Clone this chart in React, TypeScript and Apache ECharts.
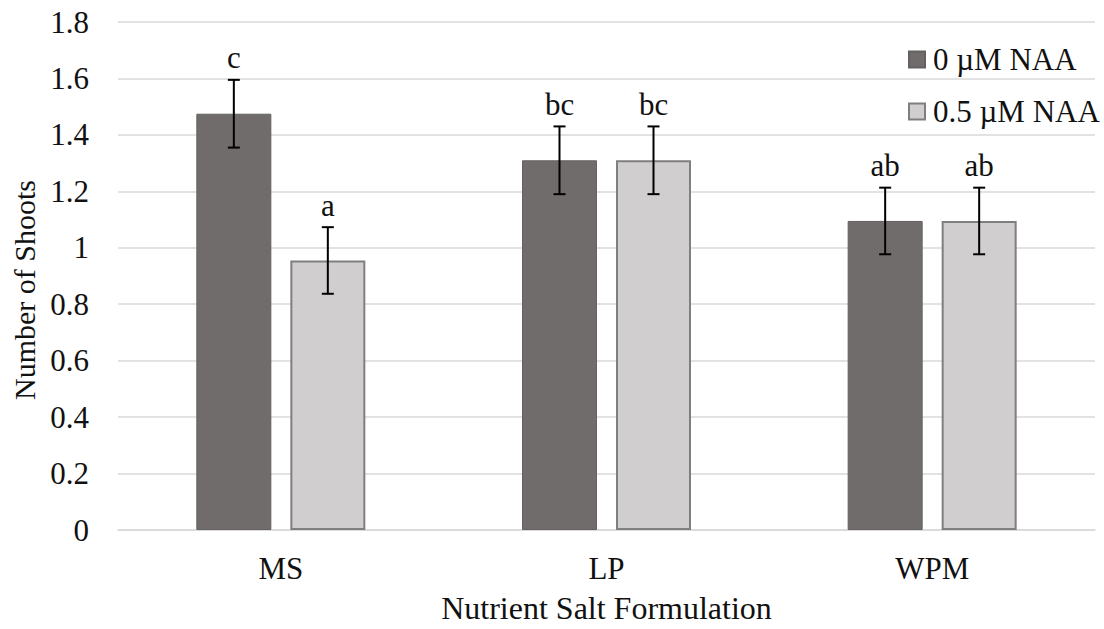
import React, { useEffect, useRef } from "react";
import * as echarts from "echarts";

const categories = ["MS", "LP", "WPM"];
const seriesNames = ["0 µM NAA", "0.5 µM NAA"];
const naa0 = [1.475, 1.31, 1.095];
const naa05 = [0.955, 1.31, 1.095];
const err0 = [0.12, 0.12, 0.118];
const err05 = [0.118, 0.12, 0.118];
const letters0 = ["c", "bc", "ab"];
const letters05 = ["a", "bc", "ab"];
const yMin = 0;
const yMax = 1.8;
const yInterval = 0.2;

const FONT = "Liberation Serif";
const FS = 31;
const BAR_W = 75;
const BAR_GAP = 19;

function errSeries(values: number[], errs: number[], letters: string[], sign: number) {
  return {
    type: "custom",
    silent: true,
    z: 10,
    data: values.map((v, i) => [i, v, errs[i]]),
    renderItem: (params: any, api: any) => {
      const x = api.value(0);
      const v = api.value(1);
      const e = api.value(2);
      const top = api.coord([x, v + e]);
      const bot = api.coord([x, v - e]);
      const cx = top[0] + sign * (BAR_W + BAR_GAP) / 2;
      const lineStyle = { stroke: "#000", lineWidth: 2 };
      const cap = 6;
      return {
        type: "group",
        children: [
          { type: "line", shape: { x1: cx, y1: top[1], x2: cx, y2: bot[1] }, style: lineStyle },
          { type: "line", shape: { x1: cx - cap, y1: top[1], x2: cx + cap, y2: top[1] }, style: lineStyle },
          { type: "line", shape: { x1: cx - cap, y1: bot[1], x2: cx + cap, y2: bot[1] }, style: lineStyle },
          {
            type: "text",
            x: cx,
            y: top[1] - 22,
            style: {
              text: letters[params.dataIndex],
              fill: "#111",
              fontFamily: FONT,
              fontSize: FS,
              align: "center",
              verticalAlign: "middle",
            },
          },
        ],
      };
    },
  };
}

export default function App() {
  const ref = useRef<HTMLDivElement>(null);
  useEffect(() => {
    if (!ref.current) return;
    const chart = echarts.init(ref.current, undefined, { renderer: "svg" });
    chart.setOption({
      animation: false,
      backgroundColor: "#fff",
      textStyle: { fontFamily: FONT },
      grid: { left: 118, right: 9, top: 22, bottom: 99 },
      legend: {
        orient: "vertical",
        left: 903,
        top: 39,
        icon: "rect",
        itemWidth: 16,
        itemHeight: 16,
        itemGap: 21,
        data: seriesNames,
        textStyle: { fontFamily: FONT, fontSize: FS, color: "#111", lineHeight: 31, padding: [0, 0, 0, 3] },
      },
      xAxis: {
        type: "category",
        data: categories,
        name: "Nutrient Salt Formulation",
        nameLocation: "middle",
        nameGap: 62,
        nameTextStyle: { fontFamily: FONT, fontSize: 32, color: "#111" },
        axisLine: { show: true, lineStyle: { color: "#d9d9d9", width: 1.5 } },
        axisTick: { show: false },
        axisLabel: { fontFamily: FONT, fontSize: FS, color: "#111", margin: 23 },
      },
      yAxis: {
        type: "value",
        min: yMin,
        max: yMax,
        interval: yInterval,
        name: "Number of Shoots",
        nameLocation: "middle",
        nameGap: 79,
        nameTextStyle: { fontFamily: FONT, fontSize: 30, color: "#111", padding: [0, 28, 0, 0] },
        axisLine: { show: false },
        axisTick: { show: false },
        axisLabel: { fontFamily: FONT, fontSize: FS, color: "#111", margin: 29 },
        splitLine: { lineStyle: { color: "#d9d9d9", width: 1.5 } },
      },
      series: [
        {
          name: seriesNames[0],
          type: "bar",
          data: naa0,
          barWidth: BAR_W,
          barGap: `${(BAR_GAP / BAR_W) * 100}%`,
          itemStyle: { color: "#706c6b", borderColor: "#646060", borderWidth: 1 },
        },
        {
          name: seriesNames[1],
          type: "bar",
          data: naa05,
          barWidth: BAR_W,
          barGap: `${(BAR_GAP / BAR_W) * 100}%`,
          itemStyle: { color: "#d0cece", borderColor: "#7f7f7f", borderWidth: 2 },
        },
        errSeries(naa0, err0, letters0, -1),
        errSeries(naa05, err05, letters05, 1),
      ],
    });
    return () => chart.dispose();
  }, []);
  return <div ref={ref} style={{ width: 1104, height: 629, position: "absolute", left: 0, top: 0 }} />;
}
